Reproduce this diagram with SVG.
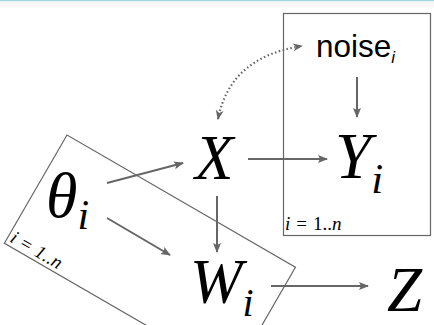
<svg xmlns="http://www.w3.org/2000/svg" width="434" height="325" viewBox="0 0 434 325">
<defs>
<style>
.m{font-family:"Liberation Serif","Times New Roman",serif;font-style:italic;fill:#000}
.s{font-family:"Liberation Sans",Arial,sans-serif;fill:#000}
.plate{fill:none;stroke:#666;stroke-width:1.2}
.e{fill:none;stroke:#666;stroke-width:2}
.d{fill:none;stroke:#666;stroke-width:2.2;stroke-dasharray:1.5 2.5}
.lab{font-family:"Liberation Serif","Times New Roman",serif;font-size:19px;fill:#000}
</style>
<marker id="ah" viewBox="0 0 10 10" refX="9" refY="5" markerWidth="10" markerHeight="10" markerUnits="userSpaceOnUse" orient="auto">
<path d="M0,1 L10,5 L0,9 L2,5 Z" fill="#666"/>
</marker>
<marker id="ahs" viewBox="0 0 10 10" refX="9" refY="5" markerWidth="10" markerHeight="10" markerUnits="userSpaceOnUse" orient="auto-start-reverse">
<path d="M0,1 L10,5 L0,9 L3,5 Z" fill="#666"/>
</marker>
</defs>
<rect x="0" y="0" width="434" height="325" fill="#fff"/>
<rect x="0" y="0" width="434" height="7" fill="#f7f7f7"/>
<rect x="0" y="0" width="434" height="1.2" fill="#9fd8de"/>
<g id="plate-right">
<rect class="plate" x="283.5" y="13.5" width="147" height="222"/>
<text class="lab" x="285" y="230"><tspan font-style="italic">i</tspan><tspan dx="6">=</tspan><tspan dx="6">1..</tspan><tspan font-style="italic">n</tspan></text>
</g>
<g id="plate-left" transform="translate(67,135) rotate(30.07)">
<rect class="plate" x="0" y="0" width="264" height="125"/>
<text class="lab" x="3" y="121" font-style="italic">i<tspan dx="5">=</tspan><tspan dx="5">1..n</tspan></text>
</g>
<g id="connectors">
<path class="d" d="M218,119 Q230,57 302,46" marker-start="url(#ahs)" marker-end="url(#ahs)"/>
<line class="e" x1="357" y1="77" x2="357" y2="117" marker-end="url(#ah)"/>
<line class="e" x1="248" y1="159" x2="327" y2="159" marker-end="url(#ah)"/>
<line class="e" x1="107" y1="183" x2="183" y2="163" marker-end="url(#ah)"/>
<line class="e" x1="107" y1="218" x2="170" y2="255" marker-end="url(#ah)"/>
<line class="e" x1="217" y1="196" x2="217" y2="252" marker-end="url(#ah)"/>
<line class="e" x1="271" y1="286" x2="368" y2="286" marker-end="url(#ah)"/>
</g>
<g id="node-noise">
<text class="s" x="316" y="57" font-size="31.5">noise<tspan font-size="17" font-style="italic" dy="6">i</tspan></text>
</g>
<g id="node-X">
<text class="m" x="195" y="179" font-size="63">X</text>
</g>
<g id="node-Y">
<text class="m" x="335" y="178" font-size="65">Y<tspan font-size="43" dy="15">i</tspan></text>
</g>
<g id="node-theta">
<text class="m" x="46" y="217" font-size="64">θ<tspan font-size="42" dy="12">i</tspan></text>
</g>
<g id="node-W">
<text class="m" x="190" y="303" font-size="63">W<tspan font-size="40" dy="13">i</tspan></text>
</g>
<g id="node-Z">
<text class="m" x="387" y="311" font-size="63">Z</text>
</g>
</svg>
